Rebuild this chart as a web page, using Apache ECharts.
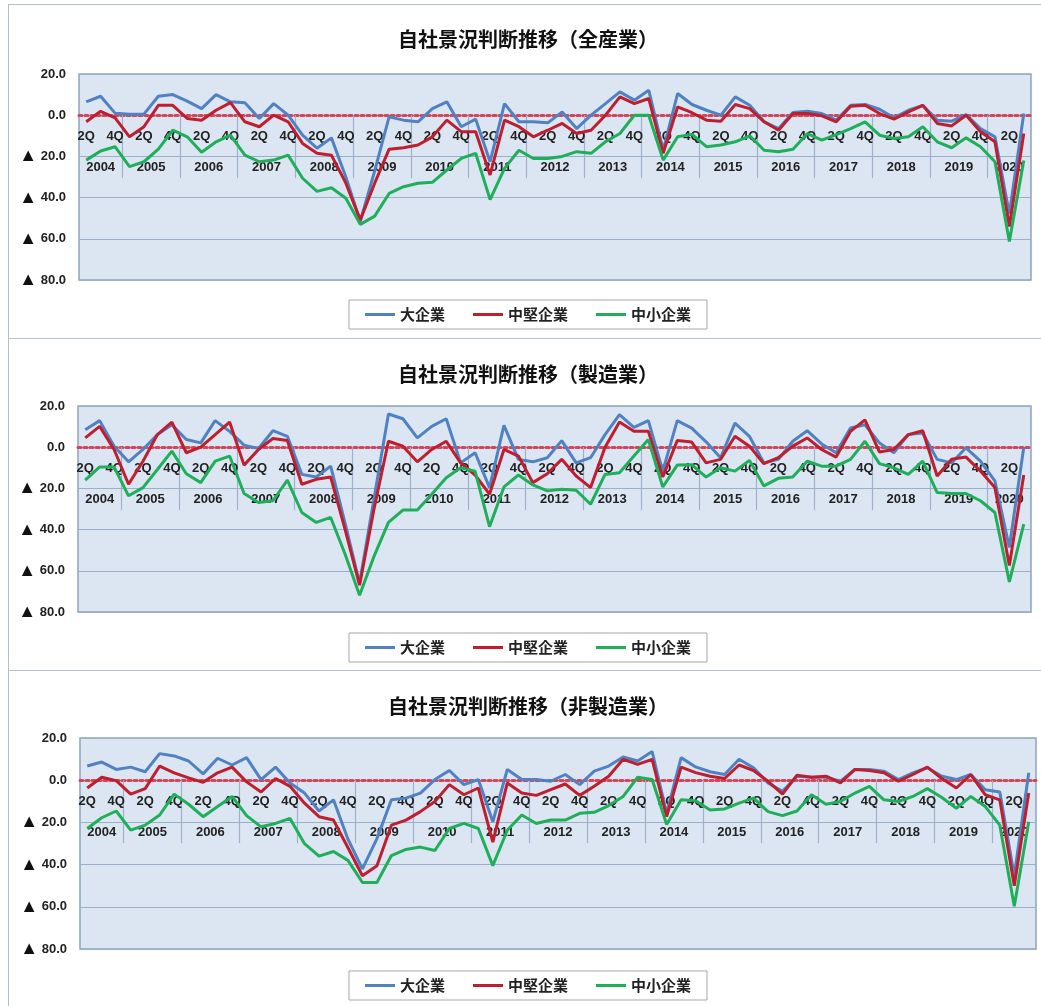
<!DOCTYPE html>
<html><head><meta charset="utf-8">
<script src="https://cdn.jsdelivr.net/npm/echarts@6/dist/echarts.min.js"></script>
<style>
html,body{margin:0;padding:0;background:#fff;overflow:hidden;width:1041px;height:1006px;}
.panel{position:absolute;left:8px;width:1040px;border:1px solid #b4bfcc;box-sizing:border-box;background:#fff}
</style></head><body>
<div id="c1" class="panel" style="top:4px;height:336px"></div>
<div id="c2" class="panel" style="top:338px;height:334px"></div>
<div id="c3" class="panel" style="top:670px;height:345px"></div>
<script>
// ---- data ----
const firstYear = 2004, firstQuarter = 2, lastYear = 2020, lastQuarter = 3;
const seriesNames = ['大企業', '中堅企業', '中小企業'];
const titles = ['自社景況判断推移（全産業）', '自社景況判断推移（製造業）', '自社景況判断推移（非製造業）'];
const yMin = -80, yMax = 20, yStep = 20;

const allLarge = [6.5,9.2,1,0.5,0.5,9.2,10,6.8,3.2,10,6.5,6,-1.6,5.6,0,-9.7,-16,-11,-30,-51.6,-27,-0.8,-2.4,-3.2,3.2,6.5,-5.6,-1.9,-22.6,5.6,-3.2,-3.2,-3.7,1.6,-6.5,0,5.6,11.3,7.3,12.1,-17,10.5,5.2,2.4,0,8.9,4.8,-3.2,-6.5,1.3,1.9,0.8,-2.4,4.8,5.2,2.9,-1.3,2.4,4.8,-2.4,-2.9,0.3,-6.5,-10.5,-48,0.8];
const allMid = [-3.2,1.9,-1.3,-10.5,-5.6,4.8,4.8,-1.6,-2.4,2.4,6.1,-3.2,-5.6,0,-3.2,-13.7,-18.5,-19.4,-33,-50.8,-33,-16.5,-15.8,-14.5,-10.5,-2.4,-8,-8,-29,-2.4,-5.6,-10.5,-7.3,-4,-8.9,-7.3,0,8.9,5.6,8.1,-18.5,4,1.2,-2.4,-2.9,5.2,3.2,-3.2,-7.3,0.8,0.8,-0.3,-3.2,4.4,4.8,0.8,-1.9,1.6,4.8,-4,-5.2,0,-8,-12.9,-54,-8.9];
const allSmall = [-21.8,-17.4,-15.3,-25,-22.6,-16.5,-7.3,-10.5,-18,-12.9,-9.7,-19.4,-22.6,-21.8,-19.4,-30.6,-37,-35.2,-40.3,-53,-49,-38,-34.7,-33,-32.6,-26.6,-21,-18.5,-41,-25.8,-17,-21,-21,-20,-17.7,-18.5,-12.9,-8.9,0,0,-21.8,-10.5,-9.3,-15.3,-14.5,-12.9,-10,-17,-17.7,-16.5,-8.9,-12.1,-9.4,-6.5,-3.2,-9.7,-11.3,-10.5,-5.6,-12.9,-15.8,-11,-15.3,-22.6,-61.3,-22];

const mfgLarge = [8.5,12.9,0.5,-7.1,-1.1,6.1,10.9,3.7,2.1,12.9,7.7,1,-0.6,8,5.3,-13.2,-14.5,-9.2,-37,-66,-25,16.1,13.8,4.5,10.1,13.8,-7.6,-2.7,-19.6,10.6,-5.9,-7.1,-5.1,3.2,-7.6,-5.1,6.1,15.8,9.6,12.9,-11.6,12.9,9.3,2.6,-5.1,11.7,5.3,-7.6,-5.9,2.9,8,1.6,-2.7,9.3,10.9,2.1,-2.7,6.1,6.9,-5.9,-7.6,-0.3,-6.8,-16.4,-48.6,0];
const mfgMid = [4.5,10.1,-1.1,-18,-6.8,6.1,12.2,-2.7,0,6.1,12.2,-8.7,-1.1,4.2,3.2,-18,-15.6,-14.5,-40,-67,-30,2.9,0.5,-7.1,-1.1,2.9,-7.6,-13.5,-22.8,-1.1,-4.3,-17.2,-12.9,-5.9,-14,-19.6,0,12.2,7.7,7.7,-14.5,3.2,2.5,-7.6,-5.9,5.3,0.5,-8,-5.1,0.5,4.5,-1.1,-4.8,7.7,13.3,-2.3,-1.1,6.1,8,-14,-5.9,-4.8,-11.6,-19.6,-57.4,-13.5];
const mfgSmall = [-16,-9.6,-9.6,-23.6,-19.6,-10.8,-1.9,-12.9,-17.2,-6.8,-4.3,-22.5,-26.8,-26,-16,-31.7,-36.5,-34.1,-52,-71.9,-53,-36.5,-30.5,-30.5,-22.8,-14.8,-10,-11.6,-38.6,-19.3,-13.5,-18.3,-21.2,-20.4,-20.9,-27.7,-13.2,-12.4,-4.3,3.7,-19.3,-8.7,-8.5,-14.5,-10,-11.6,-6.4,-18.8,-15.1,-14.5,-6.8,-9.2,-9.2,-5.9,2.9,-8,-10,-13.2,-6.8,-22,-22.5,-22.5,-26,-31.7,-65.4,-37.3];

const nonLarge = [6.7,8.6,5.1,6.2,4,12.6,11.5,9.1,3,10.4,7.2,10.7,0.3,6.2,-1.3,-6.1,-14.6,-9.3,-28,-42,-27.7,-9.3,-8.5,-6.1,0.3,4.6,-2.1,0.3,-19.7,5.1,0.3,0.3,-0.5,2.7,-2.1,4.3,6.7,11,9.1,13.6,-15.7,10.7,6.3,4,2.7,9.9,5.9,-1.3,-5.3,1.9,1.4,1.4,-0.5,5.1,5.1,4.3,0.3,3.5,5.9,1.9,0.3,2.7,-4.5,-5.6,-45.3,3.5];
const nonMid = [-3.7,1.4,-0.2,-6.6,-4,6.7,3.5,1.1,-1,3.5,6.2,-0.8,-5.6,0.8,-2.9,-10.9,-17.3,-18.9,-32,-45.3,-40.5,-21.3,-18.9,-14.9,-10.1,-2.1,-6.9,-3.7,-29.3,-1.3,-6.1,-7.2,-4.5,-1.8,-7.2,-2.9,1.9,9.9,7.5,9.9,-17.3,6.2,3.6,1.9,0.8,7.2,4.6,-0.5,-6.6,2.4,1.4,1.9,-1.3,5.1,4.6,3.5,-0.5,2.7,6.2,0.8,-3.7,2.7,-6.9,-9.3,-50,-6.1];
const nonSmall = [-22.9,-17.8,-14.6,-23.7,-21.3,-16.5,-6.6,-11.4,-17.3,-12.5,-7.7,-16.8,-22.1,-20.5,-18.1,-30.1,-36,-33.8,-38,-48.5,-48.5,-35.7,-32.8,-31.7,-33.3,-22.9,-20.5,-22.9,-40.5,-23.7,-16.5,-20.5,-18.9,-18.9,-15.7,-15.2,-12,-7.7,1.4,0.3,-21,-9.3,-9.7,-14.1,-13.6,-10.9,-8.5,-14.9,-16.8,-14.6,-6.9,-11.4,-10.1,-6.1,-2.9,-9.3,-10.1,-7.7,-4,-8.2,-13.3,-7.7,-12.5,-21.3,-59.7,-19.7];

// ---- categories ----
const quarterCats = [];
const yearSpans = []; // [startIndex, count, label]
for (let y = firstYear; y <= lastYear; y++) {
  const q0 = (y === firstYear) ? firstQuarter : 1;
  const q1 = (y === lastYear) ? lastQuarter : 4;
  yearSpans.push([quarterCats.length, q1 - q0 + 1, String(y)]);
  for (let q = q0; q <= q1; q++) quarterCats.push(q + 'Q');
}
const nQ = quarterCats.length;
const halfSlots = new Array(2 * nQ + 1).fill('');
const boundarySlots = new Set();
yearSpans.forEach(([s, n, lab]) => {
  halfSlots[2 * s + n] = lab;
  if (s > 0) boundarySlots.add(2 * s);
});

const colors = ['#5082c2', '#be1e2d', '#1fae5a'];
const FONT = '"Liberation Sans", "DejaVu Sans", sans-serif';
const CJK = '"Noto Sans CJK JP", sans-serif';

function makeOption(title, data, L) {
  // place the category axes on the zero line of the value axis
  const zeroOffset = -L.height * (0 - yMin) / (yMax - yMin);
  return {
    animation: false,
    title: { text: title, left: 'center', top: L.titleTop,
      textStyle: { fontFamily: CJK, fontSize: 20, fontWeight: 'bold', color: '#111' } },
    legend: {
      data: seriesNames, top: L.legendTop, left: 'center', icon: 'rect',
      itemWidth: 30, itemHeight: 3, itemGap: 28, padding: [7, 16],
      borderColor: '#a6a6a6', borderWidth: 1, backgroundColor: '#fff',
      textStyle: { fontFamily: CJK, fontSize: 15, fontWeight: 'bold', color: '#222' }
    },
    grid: { left: L.left, top: L.top, width: L.width, height: L.height, show: true,
      backgroundColor: '#dce6f2', borderColor: '#8ea4bf', borderWidth: 1.5 },
    xAxis: [
      { type: 'category', data: quarterCats, boundaryGap: true, gridIndex: 0,
        position: 'bottom', offset: zeroOffset,
        axisLine: { show: true, onZero: false,
          lineStyle: { color: '#d3455a', width: 3, type: 'dotted' } },
        axisTick: { show: false },
        axisLabel: { interval: (i) => i % 2 === 0, margin: 15,
          fontFamily: FONT, fontSize: 13, fontWeight: 'bold', color: '#222' },
        splitLine: { show: false } },
      { type: 'category', data: halfSlots, boundaryGap: false, gridIndex: 0,
        position: 'bottom', offset: zeroOffset,
        axisLine: { show: false, onZero: false },
        axisTick: { show: true, length: 63, interval: (i) => boundarySlots.has(i),
          lineStyle: { color: '#9fb1c8', width: 1.2 } },
        axisLabel: { interval: (i) => halfSlots[i] !== '', margin: 46,
          fontFamily: FONT, fontSize: 13, fontWeight: 'bold', color: '#222' },
        splitLine: { show: false } }
    ],
    yAxis: { type: 'value', min: yMin, max: yMax, interval: yStep,
      axisLine: { show: false }, axisTick: { show: false },
      splitLine: { show: true, lineStyle: { color: '#9aafc8', width: 1 } },
      axisLabel: { margin: 13, fontFamily: FONT, fontSize: 13, fontWeight: 'bold', color: '#222',
        formatter: (v) => v < 0 ? '{t|▲} ' + (-v).toFixed(1) : v.toFixed(1),
        rich: { t: { fontSize: 18, fontFamily: FONT, color: '#111' } } } },
    series: data.map((d, k) => ({
      name: seriesNames[k], type: 'line', data: d, xAxisIndex: 0, yAxisIndex: 0,
      symbol: 'none', showSymbol: false, z: 3 + k,
      lineStyle: { color: colors[k], width: 3 }, itemStyle: { color: colors[k] }
    }))
  };
}

const layouts = [
  { titleTop: 19, legendTop: 295, left: 70, top: 69, width: 952, height: 206 },
  { titleTop: 20, legendTop: 294, left: 69, top: 67, width: 953, height: 206 },
  { titleTop: 20, legendTop: 300, left: 71, top: 67, width: 956, height: 211 }
];
const datasets = [[allLarge, allMid, allSmall], [mfgLarge, mfgMid, mfgSmall], [nonLarge, nonMid, nonSmall]];
['c1', 'c2', 'c3'].forEach((id, i) => {
  const ch = echarts.init(document.getElementById(id), null, { renderer: 'canvas' });
  ch.setOption(makeOption(titles[i], datasets[i], layouts[i]));
});
</script>
</body></html>
